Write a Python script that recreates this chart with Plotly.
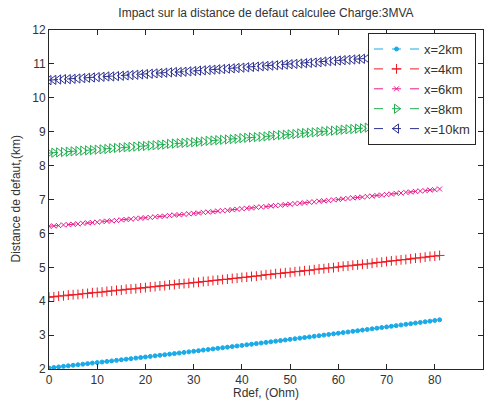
import plotly.graph_objects as go

rdef = list(range(0, 82))

d2km = [2.030, 2.046, 2.062, 2.078, 2.094, 2.110, 2.126, 2.142, 2.158, 2.174,
        2.190, 2.206, 2.223, 2.239, 2.255, 2.272, 2.288, 2.305, 2.321, 2.338,
        2.355, 2.371, 2.388, 2.405, 2.422, 2.438, 2.455, 2.472, 2.489, 2.506,
        2.523, 2.540, 2.558, 2.575, 2.592, 2.609, 2.627, 2.644, 2.661, 2.679,
        2.696, 2.714, 2.731, 2.749, 2.767, 2.785, 2.802, 2.820, 2.838, 2.856,
        2.874, 2.892, 2.910, 2.928, 2.946, 2.964, 2.982, 3.000, 3.019, 3.037,
        3.055, 3.074, 3.092, 3.111, 3.129, 3.148, 3.166, 3.185, 3.204, 3.223,
        3.241, 3.260, 3.279, 3.298, 3.317, 3.336, 3.355, 3.374, 3.393, 3.412,
        3.432, 3.451]

d4km = [4.12, 4.13, 4.15, 4.16, 4.18, 4.19, 4.20, 4.22, 4.23, 4.25,
        4.26, 4.27, 4.29, 4.30, 4.32, 4.33, 4.35, 4.36, 4.37, 4.39,
        4.40, 4.42, 4.43, 4.45, 4.46, 4.48, 4.49, 4.51, 4.52, 4.53,
        4.55, 4.56, 4.58, 4.59, 4.61, 4.62, 4.64, 4.65, 4.67, 4.68,
        4.70, 4.71, 4.73, 4.74, 4.76, 4.78, 4.79, 4.81, 4.82, 4.84,
        4.85, 4.87, 4.88, 4.90, 4.91, 4.93, 4.95, 4.96, 4.98, 4.99,
        5.01, 5.03, 5.04, 5.06, 5.07, 5.09, 5.10, 5.12, 5.14, 5.15,
        5.17, 5.19, 5.20, 5.22, 5.23, 5.25, 5.27, 5.28, 5.30, 5.32,
        5.33, 5.35]

d6km = [6.21, 6.22, 6.23, 6.25, 6.26, 6.27, 6.28, 6.30, 6.31, 6.32,
        6.33, 6.35, 6.36, 6.37, 6.38, 6.40, 6.41, 6.42, 6.44, 6.45,
        6.46, 6.47, 6.49, 6.50, 6.51, 6.53, 6.54, 6.55, 6.56, 6.58,
        6.59, 6.60, 6.62, 6.63, 6.64, 6.66, 6.67, 6.68, 6.70, 6.71,
        6.73, 6.74, 6.75, 6.77, 6.78, 6.79, 6.81, 6.82, 6.83, 6.85,
        6.86, 6.88, 6.89, 6.90, 6.92, 6.93, 6.95, 6.96, 6.97, 6.99,
        7.00, 7.02, 7.03, 7.05, 7.06, 7.07, 7.09, 7.10, 7.12, 7.13,
        7.15, 7.16, 7.18, 7.19, 7.21, 7.22, 7.24, 7.25, 7.26, 7.28,
        7.29, 7.31]

d8km = [8.37, 8.38, 8.39, 8.40, 8.41, 8.42, 8.43, 8.44, 8.45, 8.46,
        8.47, 8.48, 8.49, 8.51, 8.52, 8.53, 8.54, 8.55, 8.56, 8.57,
        8.58, 8.59, 8.60, 8.61, 8.62, 8.64, 8.65, 8.66, 8.67, 8.68,
        8.69, 8.70, 8.71, 8.73, 8.74, 8.75, 8.76, 8.77, 8.78, 8.79,
        8.81, 8.82, 8.83, 8.84, 8.85, 8.86, 8.88, 8.89, 8.90, 8.91,
        8.92, 8.93, 8.95, 8.96, 8.97, 8.98, 8.99, 9.01, 9.02, 9.03,
        9.04, 9.06, 9.07, 9.08, 9.09, 9.10, 9.12, 9.13, 9.14, 9.15,
        9.17, 9.18, 9.19, 9.21, 9.22, 9.23, 9.24, 9.26, 9.27, 9.28,
        9.29, 9.31]

d10km = [10.52, 10.53, 10.54, 10.55, 10.55, 10.56, 10.57, 10.58, 10.59, 10.60,
         10.61, 10.62, 10.63, 10.63, 10.64, 10.65, 10.66, 10.67, 10.68, 10.69,
         10.70, 10.71, 10.72, 10.73, 10.74, 10.75, 10.76, 10.76, 10.77, 10.78,
         10.79, 10.80, 10.81, 10.82, 10.83, 10.84, 10.85, 10.86, 10.87, 10.88,
         10.89, 10.90, 10.91, 10.92, 10.93, 10.94, 10.95, 10.96, 10.97, 10.98,
         10.99, 11.00, 11.01, 11.02, 11.03, 11.04, 11.05, 11.07, 11.08, 11.09,
         11.10, 11.11, 11.12, 11.13, 11.14, 11.15, 11.16, 11.17, 11.18, 11.19,
         11.21, 11.22, 11.23, 11.24, 11.25, 11.26, 11.27, 11.28, 11.29, 11.31,
         11.32, 11.33]

names = ["x=2km", "x=4km", "x=6km", "x=8km", "x=10km"]
series = [d2km, d4km, d6km, d8km, d10km]
colors = ["#19aae8", "#ed1c24", "#ec1c8c", "#1fae4f", "#2e3192"]
symbols = ["circle", "cross-thin-open", "x-thin-open", "triangle-right-open", "triangle-left-open"]
sizes = [4, 7, 5, 8, 8]

fig = go.Figure()
for n, s, c, sym, sz in zip(names, series, colors, symbols, sizes):
    fig.add_trace(go.Scatter(
        x=rdef, y=s, name=n, mode="lines+markers",
        line=dict(color=c, width=1, dash="dash"),
        marker=dict(symbol=sym, size=sz, color=c,
                    line=dict(color=c, width=1)),
    ))

axis_common = dict(
    showgrid=False, zeroline=False, showline=True, linecolor="#262626",
    linewidth=1, mirror="ticks", ticks="inside", ticklen=5,
    tickcolor="#262626", tickfont=dict(size=12, color="#333333"),
    automargin=False,
)

fig.update_layout(
    width=488, height=406,
    margin=dict(l=49, r=5, t=30, b=37),
    paper_bgcolor="white", plot_bgcolor="white",
    font=dict(family="Liberation Sans, Arial, sans-serif", size=12, color="#333333"),
    title=dict(text="Impact sur la distance de defaut calculee Charge:3MVA",
               x=0.545, xanchor="center", y=1 - 13 / 406, yanchor="middle",
               font=dict(size=12, color="#333333")),
    xaxis=dict(range=[0, 90], dtick=10, **axis_common),
    yaxis=dict(range=[2, 12], dtick=1, **axis_common),
    legend=dict(x=0.735, y=0.991, xanchor="left", yanchor="top",
                bgcolor="white", bordercolor="#262626", borderwidth=1,
                font=dict(size=13, color="#333333"), tracegroupgap=0,
                itemwidth=45),
    annotations=[
        dict(text="Rdef, (Ohm)", xref="paper", yref="paper", x=0.5, y=-24 / 339,
             xanchor="center", yanchor="middle", showarrow=False,
             font=dict(size=12, color="#333333")),
        dict(text="Distance de defaut,(km)", xref="paper", yref="paper",
             x=-34 / 434, y=0.5, xanchor="center", yanchor="middle",
             textangle=-90, showarrow=False, font=dict(size=12, color="#333333")),
    ],
    showlegend=True,
)

fig.write_html("out.html", config={"displayModeBar": False},
               post_script="document.body.style.margin='0';document.body.style.overflow='hidden';")
